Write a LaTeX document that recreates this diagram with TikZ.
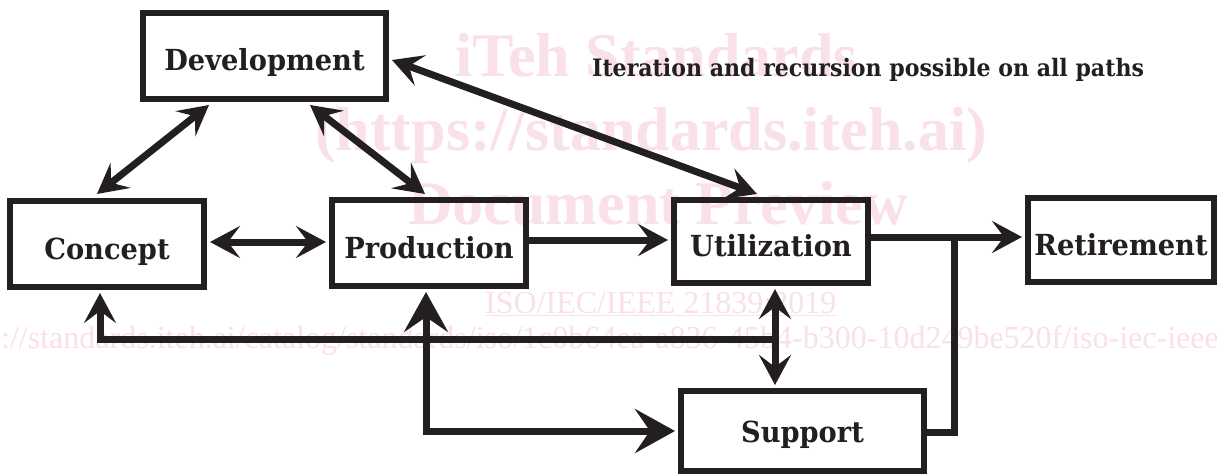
\documentclass[tikz,border=0pt]{standalone}
\usepackage{fontspec}
\setmainfont{DejaVu Serif}
\newfontfamily\wmfont{Liberation Serif}
\newfontfamily\labelfont[FakeStretch=0.94]{DejaVu Serif}
\newfontfamily\notefont[FakeStretch=0.92]{DejaVu Serif}
\usetikzlibrary{arrows.meta,calc}
\definecolor{wm}{RGB}{250,224,232}
\definecolor{ink}{RGB}{35,31,32}
\newlength\wmhttps
\begin{document}
\settowidth{\wmhttps}{\wmfont\fontsize{32}{32}\selectfont https}%
\begin{tikzpicture}[x=1pt,y=-1pt,
  box/.style={draw=ink, line width=6pt, rectangle, inner sep=0pt,
    font=\labelfont\bfseries\fontsize{29}{32}\selectfont, text=ink,
    text height=30pt, text depth=0pt},
  conn/.style={line width=7pt, draw=ink},
  arr/.tip={Stealth[length=30pt,width=32pt,inset=12pt]},
  bigarr/.tip={Stealth[length=40pt,width=44pt,inset=15pt]},
  wmtext/.style={text=wm, inner sep=0pt, anchor=base west},
  wmbig/.style={wmtext, font=\wmfont\bfseries\fontsize{62}{62}\selectfont},
  wmsmall/.style={wmtext, font=\wmfont\fontsize{32}{32}\selectfont}]
\useasboundingbox[fill=white] (0,0) rectangle (1217,476);
% watermark
\node[wmbig] (wm1) at (455,77) {iTeh Standards};
\node[wmbig] (wm2) at (315,150) {(https://standards.iteh.ai)};
\node[wmbig] (wm3) at (408,224) {Document Preview};
\node[wmsmall] (wm4) at (485,313) {\underline{ISO/IEC/IEEE 21839:2019}};
\node[wmsmall] (wm5) at ($(1,348)-(\wmhttps,0)$) {https://standards.iteh.ai/catalog/standards/iso/1c0b64ea-a836-45b4-b300-10d249be520f/iso-iec-ieee-21839-2019};
% boxes
\node[box, minimum width=243pt, minimum height=86pt] (dev) at (264.5,56) {Development};
\node[box, minimum width=194pt, minimum height=86pt] (con) at (107,244) {Concept};
\node[box, minimum width=194pt, minimum height=86pt] (pro) at (429,243) {Production};
\node[box, minimum width=194pt, minimum height=83pt] (uti) at (771,241.5) {Utilization};
\node[box, minimum width=186pt, minimum height=84pt] (ret) at (1121,240) {Retirement};
\node[box, minimum width=243pt, minimum height=80pt, text height=22pt] (sup) at (802.5,431) {Support};
\node[anchor=base west, inner sep=0pt, text=ink, font=\notefont\bfseries\fontsize{24}{26}\selectfont] (note) at (592,77) {Iteration and recursion possible on all paths};
% junctions
\coordinate (j) at (954,237);
\coordinate (r) at (775,339);
% connectors
\draw[conn, arr-arr] ($(dev.south west)+(69,3)$) -- ($(con.north west)+(90,-4)$);
\draw[conn, arr-arr] ($(dev.south west)+(170,3)$) -- ($(pro.north west)+(96,-3)$);
\draw[conn, arr-arr] ($(dev.east)+(3,4)$) -- ($(uti.north west)+(86,-3)$);
\draw[conn, arr-arr] ($(con.east)+(3,-2)$) -- ($(pro.west)+(-3,-1)$);
\draw[conn, -arr] ($(pro.east)+(0,-3)$) -- ($(uti.west)+(-3,-1.5)$);
\draw[conn, -arr] ($(uti.east)+(0,-4.5)$) -- ($(ret.west)+(-3,-3)$);
\draw[conn] ($(sup.east)+(0,1)$) -| (j);
\draw[conn, arr-arr] ($(uti.south)+(4,3)$) -- ($(sup.north)+(-27.5,-3)$);
\draw[conn, -arr] (r) -| ($(con.south west)+(93,3)$);
\draw[conn, bigarr-bigarr] ($(pro.south west)+(97,3)$) |- ($(sup.west)+(-3,0)$);
\end{tikzpicture}
\end{document}
